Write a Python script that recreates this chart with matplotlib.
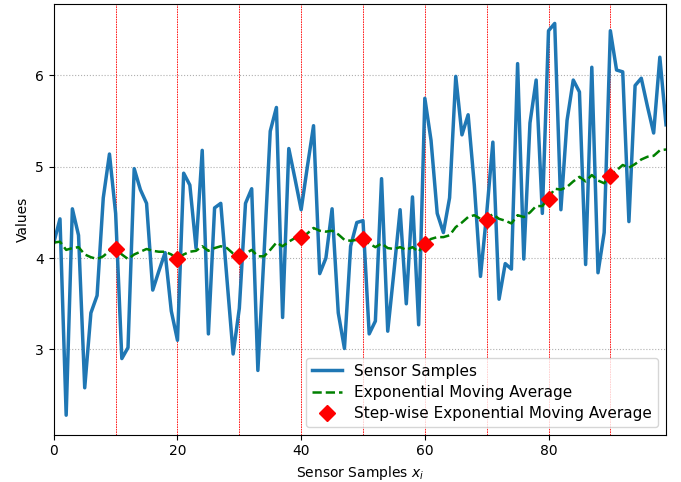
import numpy as np
import matplotlib
matplotlib.use("Agg")
import matplotlib.pyplot as plt

# sensor readings, one per sample index 0..99
samples = [4.17, 4.43, 2.28, 4.54, 4.25, 2.58, 3.40, 3.59, 4.66, 5.14,
           4.49, 2.90, 3.02, 4.98, 4.75, 4.60, 3.65, 3.86, 4.06, 3.42,
           3.10, 4.93, 4.80, 4.11, 5.18, 3.17, 4.55, 4.60, 3.77, 2.95,
           3.45, 4.60, 4.76, 2.77, 4.05, 5.39, 5.65, 3.35, 5.20, 4.87,
           4.53, 5.00, 5.45, 3.83, 4.00, 4.54, 3.40, 3.01, 4.13, 4.39,
           4.41, 3.17, 3.31, 4.87, 3.20, 3.85, 4.53, 3.50, 4.67, 3.27,
           5.75, 5.29, 4.49, 4.28, 4.66, 5.99, 5.35, 5.57, 4.80, 3.80,
           4.49, 5.27, 3.55, 3.94, 3.88, 6.13, 3.99, 5.48, 5.95, 4.49,
           6.49, 6.57, 4.53, 5.51, 5.95, 5.82, 3.93, 6.09, 3.84, 4.28,
           6.49, 6.06, 6.04, 4.40, 5.89, 5.97, 5.66, 5.37, 6.20, 5.46]

# exponential moving average (green dashed)
ema = [4.17, 4.18, 4.09, 4.11, 4.12, 4.04, 4.01, 3.99, 4.02, 4.08,
       4.10, 4.04, 3.99, 4.04, 4.07, 4.10, 4.08, 4.07, 4.07, 4.04,
       3.99, 4.04, 4.07, 4.08, 4.13, 4.08, 4.11, 4.13, 4.11, 4.05,
       4.02, 4.05, 4.09, 4.02, 4.02, 4.09, 4.17, 4.13, 4.18, 4.22,
       4.23, 4.27, 4.33, 4.30, 4.29, 4.30, 4.26, 4.20, 4.19, 4.20,
       4.21, 4.16, 4.12, 4.16, 4.11, 4.10, 4.12, 4.09, 4.12, 4.07,
       4.16, 4.21, 4.23, 4.23, 4.25, 4.34, 4.39, 4.45, 4.47, 4.43,
       4.44, 4.48, 4.43, 4.41, 4.38, 4.47, 4.45, 4.50, 4.57, 4.57,
       4.66, 4.76, 4.75, 4.78, 4.84, 4.89, 4.84, 4.91, 4.85, 4.82,
       4.91, 4.96, 5.02, 4.99, 5.03, 5.08, 5.11, 5.12, 5.18, 5.19]

# step-wise EMA (red diamonds)
step_x = [10, 20, 30, 40, 50, 60, 70, 80, 90]
step_ema = [4.10, 3.99, 4.02, 4.23, 4.21, 4.15, 4.42, 4.65, 4.90]

x = np.arange(len(samples))

fig, ax = plt.subplots(figsize=(6.81, 4.82), dpi=100)
fig.subplots_adjust(left=0.079, right=0.978, bottom=0.098, top=0.992)

for s in step_x:
    ax.axvline(s, color="red", linestyle="--", linewidth=0.6, dashes=(2, 1))

ax.plot(x, samples, color="#1f77b4", linewidth=2.5, label="Sensor Samples")
ax.plot(x, ema, "g--", linewidth=1.8, label="Exponential Moving Average")
ax.plot(step_x, step_ema, "rD", markersize=8, linestyle="none",
        label="Step-wise Exponential Moving Average")

ax.yaxis.grid(True, linestyle=":", color="#b0b0b0", linewidth=0.8)
ax.set_xlim(0, 99)
ax.set_xticks([0, 20, 40, 60, 80])
ax.set_yticks([3, 4, 5, 6])
ax.set_xlabel("Sensor Samples $x_i$")
ax.set_ylabel("Values")
ax.legend(loc="lower right", fontsize=11, labelspacing=0.4)

fig.savefig("out.png", dpi=100)
